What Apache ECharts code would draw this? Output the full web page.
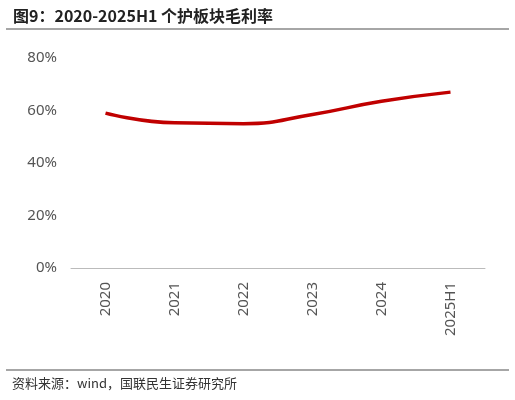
<!DOCTYPE html>
<html><head><meta charset="utf-8">
<script src="https://cdn.jsdelivr.net/npm/echarts@6/dist/echarts.min.js"></script>
<style>html,body{margin:0;padding:0;background:#fff}#c{width:515px;height:400px}</style>
</head><body><div id="c"></div>
<script>
const categories=['2020','2021','2022','2023','2024','2025H1'];
const values=[59,55.3,55,58.5,63.5,67];
const yTicks=[0,20,40,60,80];
const chart=echarts.init(document.getElementById('c'));
chart.setOption({
  animation:false,
  title:{text:'图9：2020-2025H1 个护板块毛利率',left:8,top:3,textStyle:{fontSize:16,fontWeight:'bold',color:'#222',fontFamily:'Noto Sans CJK SC'}},
  graphic:[
    {type:'line',shape:{x1:6,y1:29,x2:509,y2:29},style:{stroke:'#888',lineWidth:1.5}},
    {type:'line',shape:{x1:6,y1:370,x2:509,y2:370},style:{stroke:'#888',lineWidth:1.5}},
    {type:'text',left:12,top:377,style:{text:'资料来源：wind，国联民生证券研究所',fontSize:13,fill:'#333',fontFamily:'Noto Sans CJK SC'}}
  ],
  grid:{left:71,right:30,top:58,bottom:132},
  xAxis:{type:'category',data:categories,boundaryGap:true,
    axisLine:{lineStyle:{color:'#bbb'}},axisTick:{show:false},
    axisLabel:{rotate:90,fontSize:15,color:'#555',margin:14,fontFamily:'Noto Sans'}},
  yAxis:{type:'value',min:0,max:80,interval:20,
    axisLine:{show:false},axisTick:{show:false},splitLine:{show:false},
    axisLabel:{formatter:v=>v+'%',fontSize:15,color:'#555',margin:14,fontFamily:'Noto Sans'}},
  series:[{type:'line',data:values,smooth:0.5,symbol:'none',lineStyle:{color:'#C00000',width:3.5}}]
});
</script></body></html>
